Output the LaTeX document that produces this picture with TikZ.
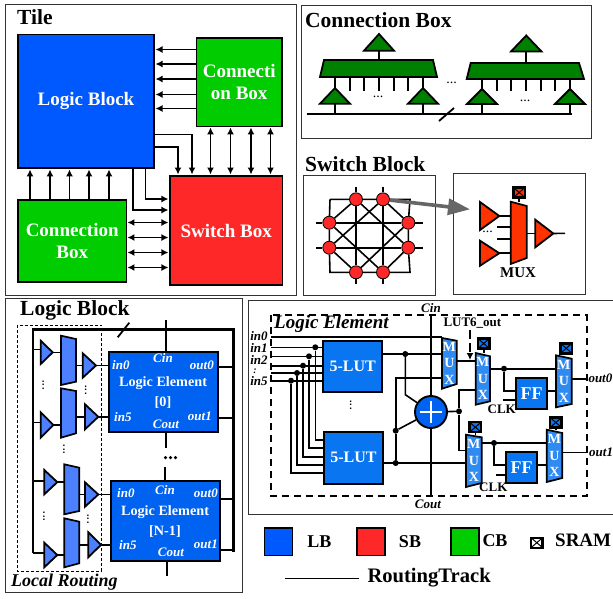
\documentclass[tikz,border=0pt]{standalone}
\usepackage{fontspec}
\setmainfont{Liberation Serif}
\usetikzlibrary{arrows.meta,fit}

\definecolor{lbblue}{HTML}{0058FF}
\definecolor{lecell}{HTML}{0062F0}
\definecolor{leblue}{HTML}{0A75F0}
\definecolor{lrblue}{HTML}{4D80FF}
\definecolor{sbred}{HTML}{FF2828}
\definecolor{muxred}{HTML}{FF3300}
\definecolor{cbgreen}{HTML}{00CC00}
\definecolor{cbdark}{HTML}{008000}

\tikzset{
  panel/.style={draw=black!80, line width=0.9pt},
  block/.style={draw, line width=1.9pt, inner sep=0, outer sep=0, text=white, align=center, font=\bfseries\fontsize{19}{21.5}\selectfont},
  wire/.style={line width=1.6pt},
  thickwire/.style={line width=1.8pt},
  bus/.style={line width=2.8pt},
  arr/.style={line width=1.6pt, -{Latex[length=7pt,width=7pt]}, shorten >=1.5pt},
  dbl/.style={line width=1.6pt, {Latex[length=7pt,width=7pt]}-{Latex[length=7pt,width=7pt]}, shorten >=1.5pt, shorten <=1pt},
  heading/.style={anchor=west, inner sep=0, font=\bfseries\fontsize{21.5}{22}\selectfont},
  lab/.style={inner sep=0, font=\bfseries\itshape\fontsize{13}{13}\selectfont},
  whitelab/.style={lab, text=white},
  letext/.style={inner sep=0, text=white, align=center, font=\bfseries\fontsize{14.2}{20}\selectfont},
  muxtext/.style={inner sep=0, text=white, align=center, font=\bfseries\fontsize{14}{16.5}\selectfont},
  plain/.style={inner sep=0, font=\bfseries\fontsize{13}{13}\selectfont},
  legend/.style={inner sep=0, font=\bfseries\fontsize{18}{18}\selectfont},
  dots/.style={inner sep=0, font=\fontsize{14}{14}\selectfont},
  dot/.style={circle, fill=black, inner sep=0, minimum size=6pt},
  xb/.style={circle, draw, fill=sbred, inner sep=0, minimum size=13pt, line width=0.8pt},
  sramcell/.style={draw=black, line width=2.4pt, inner sep=0, outer sep=0, minimum width=11.6pt, minimum height=10pt},
  legendbox/.style={draw, line width=1.9pt, minimum width=28pt, minimum height=27.5pt, inner sep=0},
}

% name, x left, x right, y top left, y top right, y bottom right, y bottom left
\newcommand{\muxat}[8][lrblue]{
  \draw[line width=1.7pt, fill=#1] (#3,#5) -- (#4,#6) -- (#4,#7) -- (#3,#8) -- cycle;
  \node[inner sep=0, outer sep=0, fit={(#3,#5) (#4,#8)}] (#2) {};
}
% name, x base, x apex, y top, y bottom
\newcommand{\bufat}[6][lrblue]{
  \draw[line width=1.8pt, fill=#1] (#3,#5) -- (#4,{(#5+#6)/2}) -- (#3,#6) -- cycle;
  \node[inner sep=0, outer sep=0, fit={(#3,#5) (#4,#6)}] (#2) {};
}
% name, x left, x right, y apex, y base
\newcommand{\upbufat}[5]{
  \draw[line width=1.8pt, fill=cbdark] ({(#2+#3)/2},#4) -- (#3,#5) -- (#2,#5) -- cycle;
  \node[inner sep=0, outer sep=0, fit={(#2,#4) (#3,#5)}] (#1) {};
}
% name, x centre, y centre
\newcommand{\sramat}[4][leblue]{
  \node[sramcell, fill=#1] (#2) at (#3,#4) {};
  \draw[line width=1pt] (#2.north west) -- (#2.south east);
  \draw[line width=1pt] (#2.north east) -- (#2.south west);
}

\begin{document}
\begin{tikzpicture}[x=1pt, y=-1pt]
\useasboundingbox (0,0) rectangle (613,598);

%% Tile
\draw[panel] (5.5,4.5) rectangle (296,295.5);
\node[heading] (tiletitle) at (17,17) {Tile};

\node[block, fill=lbblue, minimum width=136pt, minimum height=133.5pt] (lb) at (86,101.2) {Logic Block};
\node[block, fill=cbgreen, minimum width=85.5pt, minimum height=88.5pt] (cbr) at (239.2,82.2) {Connecti\\on Box};
\node[block, fill=sbred, minimum width=112.5pt, minimum height=109pt] (sb) at (226.2,230.5) {Switch Box};
\node[block, fill=cbgreen, minimum width=108.5pt, minimum height=82pt] (cbb) at (72.2,241) {Connection\\Box};

\draw[arr] (cbr.west |- 0,49.5) -- (lb.east |- 0,49.5);
\draw[arr] (cbr.west |- 0,64) -- (lb.east |- 0,64);
\draw[arr] (cbr.west |- 0,79) -- (lb.east |- 0,79);
\draw[arr] (cbr.west |- 0,94.5) -- (lb.east |- 0,94.5);
\draw[arr] (cbr.west |- 0,108.5) -- (lb.east |- 0,108.5);

\draw[arr] (lb.east |- 0,134.5) -| (192,0 |- sb.north);
\draw[arr] (lb.east |- 0,147) -| (178,0 |- sb.north);

\draw[dbl] (210.5,0 |- cbr.south) -- (210.5,0 |- sb.north);
\draw[dbl] (230.5,0 |- cbr.south) -- (230.5,0 |- sb.north);
\draw[dbl] (251,0 |- cbr.south) -- (251,0 |- sb.north);
\draw[dbl] (270.5,0 |- cbr.south) -- (270.5,0 |- sb.north);

\draw[arr] (145.5,0 |- lb.south) |- (sb.west |- 0,199);
\draw[arr] (133,0 |- lb.south) |- (sb.west |- 0,210);

\draw[dbl] (cbb.east |- 0,222.5) -- (sb.west |- 0,222.5);
\draw[dbl] (cbb.east |- 0,237.5) -- (sb.west |- 0,237.5);
\draw[dbl] (cbb.east |- 0,252.5) -- (sb.west |- 0,252.5);
\draw[dbl] (cbb.east |- 0,267.5) -- (sb.west |- 0,267.5);

\draw[arr] (30,0 |- cbb.north) -- (30,0 |- lb.south);
\draw[arr] (50,0 |- cbb.north) -- (50,0 |- lb.south);
\draw[arr] (69.5,0 |- cbb.north) -- (69.5,0 |- lb.south);
\draw[arr] (89,0 |- cbb.north) -- (89,0 |- lb.south);
\draw[arr] (109,0 |- cbb.north) -- (109,0 |- lb.south);

%% Connection Box
\draw[panel] (301,5.5) rectangle (591,138);
\node[heading] (cbtitle) at (305,20) {Connection Box};

\upbufat{cout1}{364}{394}{34}{50.7}
\upbufat{cout2}{511}{541.5}{35.5}{51.5}
\draw[line width=1.8pt, fill=cbdark] (324,60) -- (433,60) -- (437,77) -- (320,77) -- cycle;
\node[inner sep=0, outer sep=0, fit={(320,60) (437,77)}] (cbmux1) {};
\draw[line width=1.8pt, fill=cbdark] (470.7,63) -- (579,63) -- (584,79) -- (466.7,79) -- cycle;
\node[inner sep=0, outer sep=0, fit={(466.7,63) (584,79)}] (cbmux2) {};
\upbufat{cin1}{320}{350}{88}{103.7}
\upbufat{cin2}{408}{438}{88}{103.7}
\upbufat{cin3}{467}{497}{89}{104}
\upbufat{cin4}{555}{585}{89}{104}

\coordinate (trackl) at (306.7,114);
\coordinate (trackr) at (571.7,114);
\draw[bus] (trackl) -- (trackr);
\draw[thickwire] (cout1.south) -- (cout1.south |- cbmux1.north);
\draw[thickwire] (cout2.south) -- (cout2.south |- cbmux2.north);
\draw[thickwire] (cin1.north) -- (cin1.north |- cbmux1.south);
\draw[thickwire] (cin2.north) -- (cin2.north |- cbmux1.south);
\draw[thickwire] (cin3.north) -- (cin3.north |- cbmux2.south);
\draw[thickwire] (cin4.north) -- (cin4.north |- cbmux2.south);
\draw[thickwire] (cin1.south) -- (cin1.south |- trackl);
\draw[thickwire] (cin2.south) -- (cin2.south |- trackl);
\draw[thickwire] (cin3.south) -- (cin3.south |- trackl);
\draw[thickwire] (cin4.south) -- (cin4.south |- trackl);

\draw[thickwire] (349.7,0 |- cbmux1.south) -- (349.7,91);
\draw[thickwire] (364.3,0 |- cbmux1.south) -- (364.3,91);
\draw[thickwire] (379,0 |- cbmux1.south) -- (379,91);
\draw[thickwire] (393.7,0 |- cbmux1.south) -- (393.7,91);
\draw[thickwire] (408.3,0 |- cbmux1.south) -- (408.3,91);
\draw[thickwire] (496.7,0 |- cbmux2.south) -- (496.7,91);
\draw[thickwire] (511.3,0 |- cbmux2.south) -- (511.3,91);
\draw[thickwire] (526,0 |- cbmux2.south) -- (526,91);
\draw[thickwire] (540.7,0 |- cbmux2.south) -- (540.7,91);
\draw[thickwire] (555.3,0 |- cbmux2.south) -- (555.3,91);

\draw[thickwire] (439,121) -- (454,108);
\node[dots] (cbdots1) at (378,97) {...};
\node[dots] (cbdots2) at (525,101) {...};
\node[dots] (cbdots3) at (451.7,83) {...};

%% Switch Block
\node[heading] (sbtitle) at (305,164) {Switch Block};
\draw[panel] (303.5,175) rectangle (435.5,295.5);
\draw[panel] (453,173.5) rectangle (585,294);

\node[xb] (t1) at (356,199.3) {};
\node[xb] (t2) at (383,199.3) {};
\node[xb] (l1) at (329.3,222.7) {};
\node[xb] (l2) at (329.3,247.7) {};
\node[xb] (r1) at (408.3,222.7) {};
\node[xb] (r2) at (408.3,247.7) {};
\node[xb] (d1) at (356,272.3) {};
\node[xb] (d2) at (383,272.3) {};
\coordinate (tl) at (330,199.3);
\coordinate (tr) at (410,199.3);
\coordinate (bl) at (330,272.3);
\coordinate (br) at (410,272.3);

\draw[wire] (tl) -- (t1) -- (t2) -- (tr) -- (r1) -- (r2) -- (br) -- (d2) -- (d1) -- (bl) -- (l2) -- (l1) -- (tl);
\draw[wire] (316,222.7) -- (l1) -- (r1) -- (423,222.7);
\draw[wire] (316,247.7) -- (l2) -- (r2) -- (423,247.7);
\draw[wire] (356,186.7) -- (t1) -- (d1) -- (356,284);
\draw[wire] (383,186.7) -- (t2) -- (d2) -- (383,284);
\draw[wire] (l1) -- (t1);
\draw[wire] (t2) -- (r1);
\draw[wire] (l2) -- (d1);
\draw[wire] (d2) -- (r2);
\draw[wire] (t1) -- (r2);
\draw[wire] (t2) -- (l2);
\draw[wire] (l1) -- (d2);
\draw[wire] (r1) -- (d1);

\coordinate (zoomtip) at (470,209.3);
\draw[line width=3.6pt, black!60, -{Triangle[length=22pt,width=16pt]}] (t2) -- (zoomtip);

\bufat[muxred]{sbin1}{480}{499.3}{202}{230}
\bufat[muxred]{sbin2}{480}{499.3}{240.7}{265.7}
\bufat[muxred]{sbout}{535.3}{553.3}{219.7}{247.3}
\muxat[muxred]{sbmux}{510.7}{526.7}{201.7}{206}{258}{264}
\sramat[muxred]{sbsram}{519.2}{192.5}
\coordinate (sbend) at (565,233.3);
\draw[wire] (sbin1.east) -- (sbmux.west |- sbin1.east);
\draw[wire] (sbin2.east) -- (sbmux.west |- sbin2.east);
\draw[wire] (497,227) -- (sbmux.west |- 0,227);
\draw[wire] (497,239) -- (sbmux.west |- 0,239);
\draw[wire] (sbmux.east |- sbout.west) -- (sbout.west);
\draw[wire] (sbout.east) -- (sbend);
\draw[wire] (sbsram.south) -- (sbsram.south |- sbmux.north);
\node[dots] (sbdots) at (487.7,232) {...};
\node[plain, font=\bfseries\fontsize{15}{15}\selectfont] (sbmuxlabel) at (518,272.5) {MUX};

%% Logic Block
\draw[panel] (5.5,298.5) rectangle (242.7,592.5);
\node[heading] (lbtitle) at (20,310) {Logic Block};
\draw[line width=0.7pt, dash pattern=on 3pt off 2pt] (17.3,325) rectangle (101.7,571);
\node[anchor=west, inner sep=0, font=\bfseries\itshape\fontsize{18}{18}\selectfont] (lrtitle) at (11,582) {Local Routing};

\node[block, fill=lecell, minimum width=109.3pt, minimum height=80pt] (le0) at (163.6,392.3) {};
\node[block, fill=lecell, minimum width=108.7pt, minimum height=80pt] (le1) at (165.6,521) {};

\coordinate (busl) at (33,329.5);
\coordinate (busr) at (233.3,329.5);
\draw[bus] (33,553) -- (busl) -- (busr) -- (233.3,551.7);
\draw[thickwire] (117.7,337.3) -- (129.3,322.7);

\bufat{rin1}{40.7}{52.7}{340.7}{364}
\bufat{rin2}{40.7}{53.3}{412.3}{437.7}
\bufat{rin3}{44.3}{57.3}{470}{494.3}
\bufat{rin4}{44.3}{57.3}{542.7}{567.3}
\muxat{rmux1}{61}{76}{335.7}{339}{381.7}{385}
\muxat{rmux2}{61}{76}{388.3}{391}{433.3}{437.7}
\muxat{rmux3}{64.3}{79.3}{464.3}{467.7}{511}{514.3}
\muxat{rmux4}{64.3}{79.3}{518.3}{521.7}{563.3}{567.3}
\bufat{rout1}{82.7}{96}{353.3}{377.7}
\bufat{rout2}{85}{98.3}{404.3}{429.3}
\bufat{rout3}{85}{98.3}{482.3}{506.7}
\bufat{rout4}{88.3}{101}{532.3}{557.3}

\draw[wire] (busl |- 0,349.5) -- (rin1.west |- 0,349.5);
\draw[wire] (busl |- 0,422.3) -- (rin2.west |- 0,422.3);
\draw[wire] (busl |- 0,481) -- (rin3.west |- 0,481);
\draw[wire] (busl |- 0,553) -- (rin4.west |- 0,553);
\draw[wire] (rin1.east) -- (rmux1.west |- rin1.east);
\draw[wire] (rin2.east) -- (rmux2.west |- rin2.east);
\draw[wire] (rin3.east) -- (rmux3.west |- rin3.east);
\draw[wire] (rin4.east) -- (rmux4.west |- rin4.east);
\draw[wire] (rmux1.east |- rout1.west) -- (rout1.west);
\draw[wire] (rmux2.east |- rout2.west) -- (rout2.west);
\draw[wire] (rmux3.east |- rout3.west) -- (rout3.west);
\draw[wire] (rmux4.east |- rout4.west) -- (rout4.west);
\draw[wire] (rout1.east) -- (le0.west |- rout1.east);
\draw[wire] (rout2.east) -- (le0.west |- rout2.east);
\draw[wire] (rout3.east) -- (le1.west |- rout3.east);
\draw[wire] (rout4.east) -- (le1.west |- rout4.east);

\draw[thickwire] (le0.east |- 0,367) -- (busr |- 0,367);
\draw[thickwire] (le0.east |- 0,417.7) -- (busr |- 0,417.7);
\draw[thickwire] (le1.east |- 0,499) -- (busr |- 0,499);
\draw[thickwire] (le1.east |- 0,550) -- (busr |- 0,550);
\draw[thickwire] (165.7,320) -- (165.7,0 |- le0.north);
\draw[thickwire] (165.7,0 |- le0.south) -- (165.7,447.7);
\draw[thickwire] (165,466.7) -- (165,0 |- le1.north);
\draw[thickwire] (167,0 |- le1.south) -- (167,576);

\node[whitelab, anchor=west] (le0in0) at (112,365) {in0};
\node[whitelab] (le0cin) at (163,358) {Cin};
\node[whitelab, anchor=east] (le0out0) at (214,365) {out0};
\node[letext] (le0text) at (163,393) {Logic Element\\{}[0]};
\node[whitelab, anchor=west] (le0in5) at (114,417) {in5};
\node[whitelab] (le0cout) at (166,424) {Cout};
\node[whitelab, anchor=east] (le0out1) at (212,416) {out1};

\node[whitelab, anchor=west] (le1in0) at (117,493) {in0};
\node[whitelab] (le1cin) at (165,490) {Cin};
\node[whitelab, anchor=east] (le1out0) at (218,493) {out0};
\node[letext] (le1text) at (165,522) {Logic Element\\{}[N-1]};
\node[whitelab, anchor=west] (le1in5) at (119,545) {in5};
\node[whitelab] (le1cout) at (171,552) {Cout};
\node[whitelab, anchor=east] (le1out1) at (218,544) {out1};

\node[dots, rotate=90] (rdots1) at (43.3,385) {...};
\node[dots, rotate=90] (rdots2) at (85.7,390) {...};
\node[dots, rotate=90] (rdots3) at (64,449.3) {...};
\node[dots, rotate=90] (rdots4) at (44,516.7) {...};
\node[dots, rotate=90] (rdots5) at (88,519) {...};
\node[dot, minimum size=3.5pt] (ledots1) at (165.5,457.7) {};
\node[dot, minimum size=3.5pt] (ledots2) at (170.5,457.7) {};
\node[dot, minimum size=3.5pt] (ledots3) at (175.5,457.7) {};

%% Logic Element
\draw[panel] (248.3,300.3) rectangle (614,514.7);
\draw[line width=1.7pt, dash pattern=on 7pt off 5pt] (271,315.3) rectangle (586.7,496.3);
\node[anchor=west, inner sep=0, font=\bfseries\itshape\fontsize{19}{19}\selectfont] (letitle) at (274,324) {Logic Element};

\node[lab] (in0) at (259,335.7) {in0};
\node[lab] (in1) at (259,348) {in1};
\node[lab] (in2) at (259,359.7) {in2};
\node[lab, font=\bfseries\itshape\fontsize{10}{10}\selectfont] (incolon) at (255,371.5) {:};
\node[lab] (in5) at (259,381) {in5};

\node[block, fill=leblue, minimum width=58.7pt, minimum height=51.3pt, font=\bfseries\fontsize{16}{16}\selectfont] (lut1) at (352.7,366.3) {5-LUT};
\node[block, fill=leblue, minimum width=58.4pt, minimum height=51.7pt, font=\bfseries\fontsize{16}{16}\selectfont] (lut2) at (353.5,457.8) {5-LUT};
\node[dots, rotate=90] (lutdots) at (350.7,405) {...};

\muxat[leblue!85!white]{mux1}{442}{456.7}{338}{340.7}{384}{388.7}
\muxat[leblue!85!white]{mux2}{475.7}{490}{353}{356.3}{401.3}{404.7}
\muxat[leblue!85!white]{mux3}{466}{481.7}{434.7}{437.3}{483}{487}
\muxat[leblue!85!white]{mux4}{556}{571.7}{355.3}{358.7}{404}{407.3}
\muxat[leblue!85!white]{mux5}{546.7}{562.3}{429.7}{433}{478}{482}
\node[muxtext] (mux1text) at (mux1.center) {M\\U\\X};
\node[muxtext] (mux2text) at (mux2.center) {M\\U\\X};
\node[muxtext] (mux3text) at (mux3.center) {M\\U\\X};
\node[muxtext] (mux4text) at (mux4.center) {M\\U\\X};
\node[muxtext] (mux5text) at (mux5.center) {M\\U\\X};

\sramat{sram2}{483.7}{343.5}
\sramat{sram3}{475.3}{427.2}
\sramat{sram4}{566.2}{348.3}
\sramat{sram5}{555.8}{422.5}
\draw[wire] (sram2.south) -- (sram2.south |- mux2.north);
\draw[wire] (sram3.south) -- (sram3.south |- mux3.north);
\draw[wire] (sram4.south) -- (sram4.south |- mux4.north);
\draw[wire] (sram5.south) -- (sram5.south |- mux5.north);

\node[block, fill=leblue, minimum width=31pt, minimum height=31pt, font=\bfseries\fontsize{18}{18}\selectfont] (ff1) at (531.5,393.5) {FF};
\node[block, fill=leblue, minimum width=31.3pt, minimum height=31pt, font=\bfseries\fontsize{18}{18}\selectfont] (ff2) at (521.7,467.5) {FF};

\node[circle, draw, fill=lecell, line width=1.9pt, minimum size=32pt, inner sep=0] (addr) at (431,412) {};
\draw[white, line width=1.6pt] (420,412) -- (442,412);
\draw[white, line width=1.6pt] (431,401) -- (431,423);

\coordinate (cintop) at (431,315.3);
\coordinate (coutend) at (431,496.3);
\draw[wire] (cintop) -- (addr);
\draw[wire] (addr) -- (coutend);

\coordinate (inleft) at (271,337);
\draw[wire] (inleft) -- (mux1.west |- inleft);
\draw[wire] (inleft |- 0,347.3) -- (lut1.west |- 0,347.3);
\draw[wire] (inleft |- 0,356.3) -- (lut1.west |- 0,356.3);
\draw[wire] (inleft |- 0,365.7) -- (lut1.west |- 0,365.7);
\draw[wire] (inleft |- 0,373) -- (lut1.west |- 0,373);
\draw[wire] (inleft |- 0,380.7) -- (lut1.west |- 0,380.7);

\node[dot] (ip1) at (315.3,347.3) {};
\node[dot] (ip2) at (309,356.3) {};
\node[dot] (ip3) at (303,365.7) {};
\node[dot] (ip4) at (297,373) {};
\node[dot] (ip5) at (291,380.7) {};
\draw[wire] (ip1) |- (lut2.west |- 0,439.7);
\draw[wire] (ip2) |- (lut2.west |- 0,448);
\draw[wire] (ip3) |- (lut2.west |- 0,457);
\draw[wire] (ip4) |- (lut2.west |- 0,464.7);
\draw[wire] (ip5) |- (lut2.west |- 0,473);

\node[dot] (lo1) at (405.3,354) {};
\node[dot] (lo2) at (395.7,463) {};
\node[dot] (lo3) at (395.7,430.7) {};
\coordinate (xorbend) at (405.3,394.7);
\draw[wire] (lut1.east |- lo1) -- (mux1.west |- lo1);
\draw[wire] (lo1) -- (xorbend) -- (addr);
\draw[wire] (lut2.east |- lo2) -- (mux3.west |- lo2);
\draw[wire] (lo2) -- (lo3) |- (mux1.west |- 0,378);
\draw[wire] (lo3) -- (addr);

\node[dot] (sumdot) at (459,411.3) {};
\draw[wire] (addr) -- (sumdot);
\draw[wire] (sumdot) |- (mux2.west |- 0,389.7);
\draw[wire] (sumdot) |- (mux3.west |- 0,450.3);
\draw[wire] (mux1.east |- 0,360.7) -- (mux2.west |- 0,360.7);

\node[dot] (m2dot) at (504,368.7) {};
\node[dot] (m3dot) at (494,443) {};
\draw[wire] (mux2.east |- m2dot) -- (mux4.west |- m2dot);
\draw[wire] (m2dot) |- (ff1.west |- 0,390.7);
\draw[wire] (ff1.east |- 0,390.7) -- (mux4.west |- 0,390.7);
\draw[wire] (503.3,399.7) -- (ff1.west |- 0,399.7);
\draw[wire] (mux3.east |- m3dot) -- (mux5.west |- m3dot);
\draw[wire] (m3dot) |- (ff2.west |- 0,464.7);
\draw[wire] (ff2.east |- 0,464.7) -- (mux5.west |- 0,464.7);
\draw[wire] (496,474.7) -- (ff2.west |- 0,474.7);
\draw[wire] (mux4.east |- 0,379) -- (586.7,379);
\draw[wire] (mux5.east |- 0,452.3) -- (586.7,452.3);

\coordinate (lut6top) at (470,330);
\draw[line width=1.5pt, dash pattern=on 9pt off 4pt, -{Latex[length=7pt,width=7pt]}] (lut6top) -- (470,360);
\node[plain, anchor=west] (lut6label) at (443.3,323) {LUT6\_out};
\node[plain] (clk1) at (501.7,409) {CLK};
\node[plain] (clk2) at (493.3,487) {CLK};
\node[lab, anchor=west] (out0) at (588.3,378) {out0};
\node[lab, anchor=west] (out1) at (589,452.3) {out1};
\node[lab] (cinlabel) at (431,308) {Cin};
\node[lab] (coutlabel) at (428,504) {Cout};

%% legend
\node[legendbox, fill=lbblue] (legendlb) at (278.5,541.7) {};
\node[legendbox, fill=sbred] (legendsb) at (370.8,541.7) {};
\node[legendbox, fill=cbgreen] (legendcb) at (464.8,541.7) {};
\node[legend] (legendlbtext) at (319.3,541.7) {LB};
\node[legend] (legendsbtext) at (410,541.7) {SB};
\node[legend] (legendcbtext) at (495,541) {CB};
\sramat[white]{legendsram}{536.8}{542.7}
\node[legend, anchor=west, font=\bfseries\fontsize{19}{19}\selectfont] (legendsramtext) at (555,540) {SRAM};
\coordinate (tracka) at (285,578.3);
\coordinate (trackb) at (359.3,578.3);
\draw[wire] (tracka) -- (trackb);
\node[legend, anchor=west, font=\bfseries\fontsize{20.6}{21}\selectfont] (legendtrack) at (367.3,578) {RoutingTrack};
\end{tikzpicture}
\end{document}
